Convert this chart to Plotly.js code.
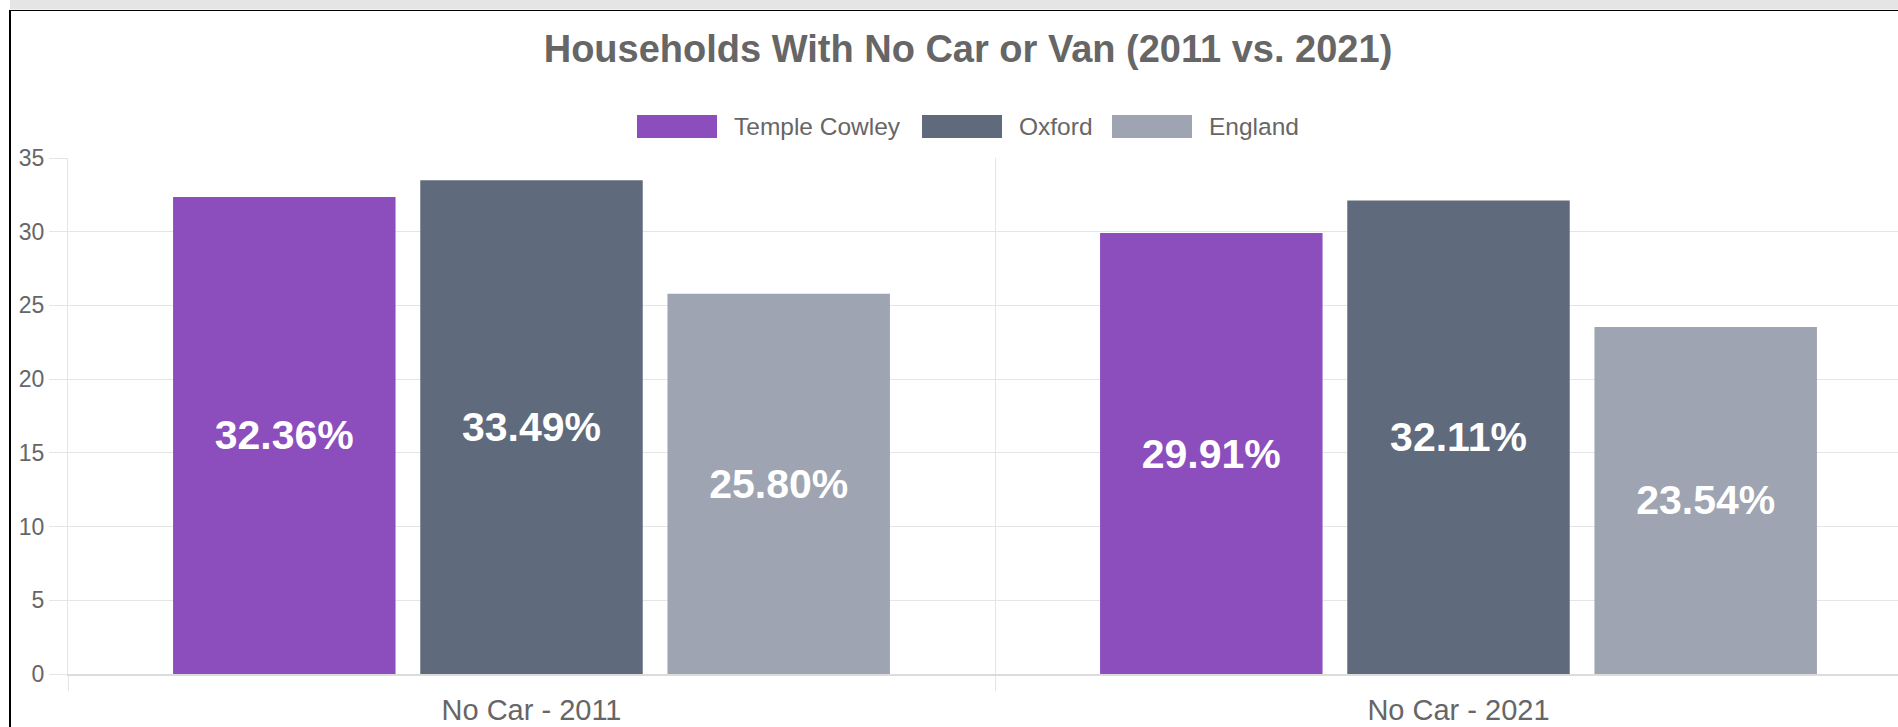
<!DOCTYPE html>
<html>
<head>
<meta charset="utf-8">
<script src="https://cdn.plot.ly/plotly-3.0.1.min.js"></script>
<style>
  html, body { margin: 0; padding: 0; background: #ffffff; overflow: hidden; }
  #chart { width: 1898px; height: 727px; }
</style>
</head>
<body>
<div id="chart"></div>
<script>
// ---- data ----
const categories = ['No Car - 2011', 'No Car - 2021'];
const seriesNames = ['Temple Cowley', 'Oxford', 'England'];
const templeCowley = [32.36, 29.91];
const oxford = [33.49, 32.11];
const england = [25.80, 23.54];
const yTicks = [0, 5, 10, 15, 20, 25, 30, 35];
const chartTitle = 'Households With No Car or Van (2011 vs. 2021)';

// ---- styling ----
const colors = ['#8c4dbd', '#606a7d', '#9ea4b1'];
const FONT = '"Liberation Sans", Arial, Helvetica, sans-serif';
const W = 1898, H = 727;
const ML = 68, MR = 0, MT = 158, MB = 53;
const PW = W - ML - MR, PH = H - MT - MB;
const CAT_PX = 927; // pixel width of one category band
const px2x = p => (p - ML) / PW;
const py2y = p => (H - MB - p) / PH;

const values = [templeCowley, oxford, england];
const traces = seriesNames.map((name, i) => ({
  type: 'bar',
  name: name,
  x: categories,
  y: values[i],
  marker: { color: colors[i] },
  texttemplate: '%{y:.2f}%',
  textposition: 'inside',
  insidetextanchor: 'middle',
  textangle: 0,
  constraintext: 'none',
  textfont: { family: FONT, size: 41, color: '#ffffff', weight: 'bold' },
  hoverinfo: 'none',
  showlegend: false
}));

// custom legend (large boxes like the original)
const legendBoxX = [637, 922, 1112];
const legendBoxW = 80, legendTop = 115, legendBottom = 138;
const shapes = [];
const annotations = [];
seriesNames.forEach((name, i) => {
  shapes.push({
    type: 'rect', xref: 'paper', yref: 'paper', layer: 'above',
    x0: px2x(legendBoxX[i]), x1: px2x(legendBoxX[i] + legendBoxW),
    y0: py2y(legendBottom), y1: py2y(legendTop),
    fillcolor: colors[i], line: { width: 0 }
  });
  annotations.push({
    xref: 'paper', yref: 'paper',
    x: px2x(legendBoxX[i] + legendBoxW + 15), y: py2y((legendTop + legendBottom) / 2),
    xanchor: 'left', yanchor: 'middle', showarrow: false,
    text: name, font: { family: FONT, size: 24.5, color: '#666666' }
  });
});

// frame: top grey band, black top line, black left line
shapes.push({
  type: 'rect', xref: 'paper', yref: 'paper', layer: 'above',
  x0: px2x(10), x1: px2x(W + 5), y0: py2y(9.5), y1: py2y(-5),
  fillcolor: '#e5e5e5', line: { width: 0 }
});
shapes.push({
  type: 'line', xref: 'paper', yref: 'paper', layer: 'above',
  x0: px2x(9), x1: px2x(W + 5), y0: py2y(10.5), y1: py2y(10.5),
  line: { color: '#000000', width: 1.2 }
});
shapes.push({
  type: 'line', xref: 'paper', yref: 'paper', layer: 'above',
  x0: px2x(10), x1: px2x(10), y0: py2y(10), y1: py2y(H + 5),
  line: { color: '#000000', width: 2 }
});

const layout = {
  width: W, height: H,
  margin: { l: ML, r: MR, t: MT, b: MB, pad: 0, autoexpand: false },
  paper_bgcolor: '#ffffff',
  plot_bgcolor: '#ffffff',
  font: { family: FONT, color: '#666666' },
  title: {
    text: '<b>' + chartTitle + '</b>',
    font: { family: FONT, size: 38, color: '#666666' },
    xref: 'container', x: 968 / W, xanchor: 'center',
    yref: 'container', y: 1 - 49 / H, yanchor: 'middle'
  },
  barmode: 'group',
  bargap: 0.2,
  bargroupgap: 0.1,
  showlegend: false,
  xaxis: {
    type: 'category',
    range: [-0.5, -0.5 + PW / CAT_PX],
    tickson: 'boundaries',
    showgrid: true, gridcolor: '#e5e5e5', gridwidth: 1,
    ticks: 'outside', ticklen: 15, tickcolor: '#e5e5e5', tickwidth: 1,
    ticklabelstandoff: 10,
    showline: true, linecolor: '#dcdcdc', linewidth: 1.5,
    tickfont: { family: FONT, size: 29, color: '#666666' },
    fixedrange: true, automargin: false
  },
  yaxis: {
    range: [0, 35],
    tickvals: yTicks,
    ticktext: yTicks.map(String),
    showgrid: true, gridcolor: '#e5e5e5', gridwidth: 1,
    zeroline: false,
    ticks: 'outside', ticklen: 18, tickcolor: '#e5e5e5', tickwidth: 1,
    showline: true, linecolor: '#e5e5e5', linewidth: 1,
    tickfont: { family: FONT, size: 23, color: '#666666' },
    fixedrange: true, automargin: false
  },
  shapes: shapes,
  annotations: annotations
};

Plotly.newPlot('chart', traces, layout, { displayModeBar: false, staticPlot: true });
</script>
</body>
</html>
